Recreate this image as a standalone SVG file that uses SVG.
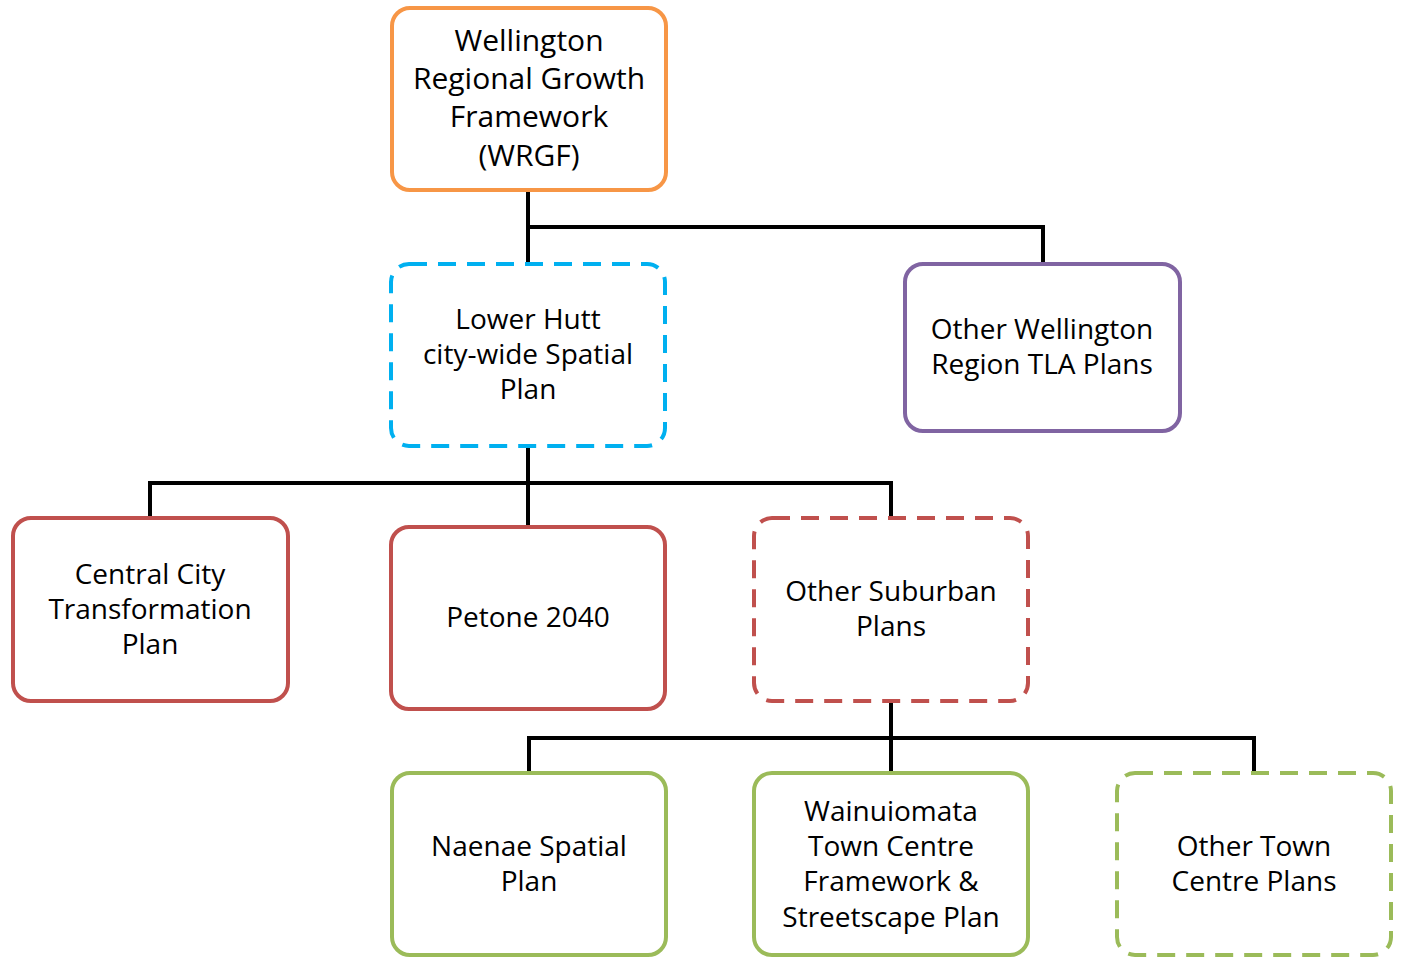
<svg xmlns="http://www.w3.org/2000/svg" width="1401" height="957" viewBox="0 0 1401 957">
<style>
.box{fill:#fff;stroke-width:4}
.o{stroke:#F79646}
.b{stroke:#00B0F0}
.p{stroke:#8064A2}
.r{stroke:#C0504D}
.g{stroke:#9BBB59}
.d{stroke-dasharray:18 11}
text{font-family:"Open Sans","Noto Sans",sans-serif;font-size:28px;fill:#000;text-anchor:middle}
.big{font-size:30px}
.c{fill:none;stroke:#000;stroke-width:4}
</style>
<rect width="1401" height="957" fill="#fff"/>
<g id="connectors">
<path class="c" d="M528 190V263M528 227H1043V263"/>
<path class="c" d="M528 446V527M150 518V483H891V518"/>
<path class="c" d="M891 701V773M529 773V738H1254V773"/>
</g>
<g id="wrgf"><rect class="box o" x="392" y="8" width="274" height="182" rx="18"/>
<text class="big" x="529" y="51">Wellington</text><text class="big" x="529" y="89">Regional Growth</text><text class="big" x="529" y="127">Framework</text><text class="big" x="529" y="166">(WRGF)</text></g>
<g id="lowerhutt"><rect class="box b d" x="391" y="264" width="274" height="182" rx="18"/>
<text x="528" y="329">Lower Hutt</text><text x="528" y="364">city-wide Spatial</text><text x="528" y="399">Plan</text></g>
<g id="otherwellington"><rect class="box p" x="905" y="264" width="275" height="167" rx="18"/>
<text x="1042" y="339">Other Wellington</text><text x="1042" y="374">Region TLA Plans</text></g>
<g id="centralcity"><rect class="box r" x="13" y="518" width="275" height="183" rx="18"/>
<text x="150" y="584">Central City</text><text x="150" y="619">Transformation</text><text x="150" y="654">Plan</text></g>
<g id="petone"><rect class="box r" x="391" y="527" width="274" height="182" rx="18"/>
<text x="528" y="627">Petone 2040</text></g>
<g id="othersuburban"><rect class="box r d" x="754" y="518" width="274" height="183" rx="18"/>
<text x="891" y="601">Other Suburban</text><text x="891" y="636">Plans</text></g>
<g id="naenae"><rect class="box g" x="392" y="773" width="274" height="182" rx="18"/>
<text x="529" y="856">Naenae Spatial</text><text x="529" y="891">Plan</text></g>
<g id="wainuiomata"><rect class="box g" x="754" y="773" width="274" height="182" rx="18"/>
<text x="891" y="821">Wainuiomata</text><text x="891" y="856">Town Centre</text><text x="891" y="891">Framework &amp;</text><text x="891" y="927">Streetscape Plan</text></g>
<g id="othertown"><rect class="box g d" x="1117" y="773" width="274" height="182" rx="18"/>
<text x="1254" y="856">Other Town</text><text x="1254" y="891">Centre Plans</text></g>
</svg>
